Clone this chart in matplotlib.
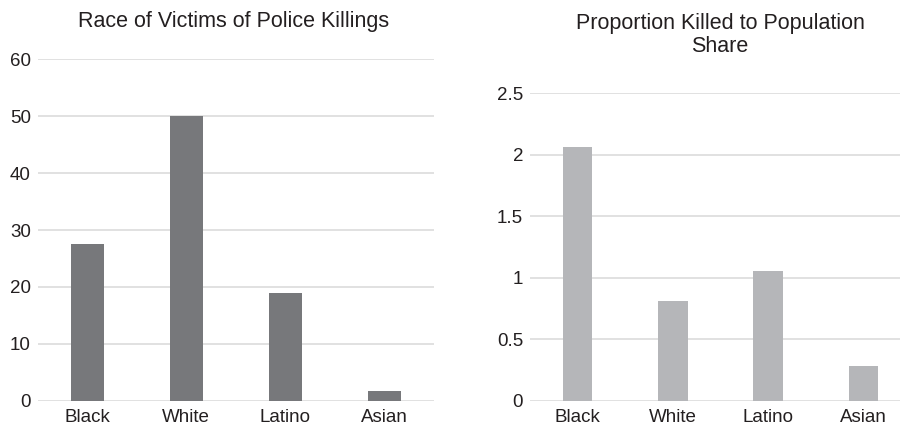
import matplotlib.pyplot as plt

# data
races = ['Black', 'White', 'Latino', 'Asian']
victims_pct = [27.6, 50.0, 18.9, 1.7]
killed_to_pop = [2.06, 0.81, 1.055, 0.28]

plt.rcParams['font.family'] = ['Liberation Sans', 'DejaVu Sans']
text_col = '#231f20'
grid_col = '#dcdcdc'

fig = plt.figure(figsize=(9, 4.28), dpi=100)
ax1 = fig.add_axes([0.0419, 0.0638, 0.4403, 0.7976])
ax2 = fig.add_axes([0.5889, 0.0638, 0.4233, 0.7182])


def style(ax, ymax, ticks):
    ax.set_ylim(0, ymax)
    ax.set_xlim(-0.5, 3.5)
    ax.set_yticks(ticks)
    ax.set_yticklabels([f'{t:g}' for t in ticks])
    ax.yaxis.grid(True, color=grid_col, linewidth=1.2)
    ax.set_axisbelow(True)
    for s in ax.spines.values():
        s.set_visible(False)
    ax.tick_params(length=0, labelsize=13.5, colors=text_col, pad=5)
    ax.tick_params(axis='x', pad=6)


ax1.bar(races, victims_pct, width=0.33, color='#77787b')
style(ax1, 60, [0, 10, 20, 30, 40, 50, 60])

ax2.bar(races, killed_to_pop, width=0.31, color='#b5b6b9')
style(ax2, 2.5, [0, 0.5, 1, 1.5, 2, 2.5])

fig.text(233.5 / 900, 1 - 21 / 428, 'Race of Victims of Police Killings',
         ha='center', va='center', fontsize=15.5, color=text_col)
fig.text(720 / 900, 1 - 35 / 428, 'Proportion Killed to Population\nShare',
         ha='center', va='center', fontsize=15.5, color=text_col, linespacing=1.1)

fig.savefig('out.png', dpi=100)
